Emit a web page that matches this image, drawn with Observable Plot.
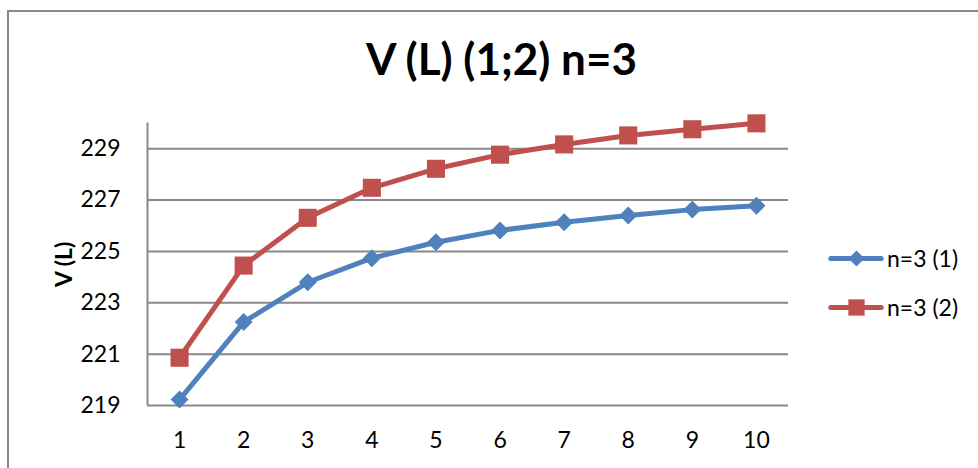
<!DOCTYPE html>
<html><head><meta charset="utf-8">
<script src="https://cdn.jsdelivr.net/npm/d3@7"></script>
<script src="https://cdn.jsdelivr.net/npm/@observablehq/plot@0.6"></script>
<style>
body{margin:0;width:978px;height:468px;overflow:hidden;background:#fff;font-family:Lato,sans-serif;}
#frame{position:absolute;left:7px;top:10px;width:980px;height:470px;border-left:2px solid #898989;border-top:2px solid #898989;}
#title{position:absolute;left:0;width:1003px;top:36px;text-align:center;font-weight:bold;font-size:44px;line-height:44px;color:#000;}
#chart{position:absolute;left:0;top:100px;}
#legend{position:absolute;left:828px;top:0;}
.row{position:absolute;left:0;display:flex;align-items:center;height:24px;font-size:23px;white-space:nowrap;color:#000;width:150px;}
.row svg{flex:none;max-width:none !important;width:56px;height:24px;}
.row span{margin-left:3px;}
g[aria-label="y-axis label"] text{font-weight:bold;}
</style></head>
<body>
<div id="frame"></div>
<div id="title"></div>
<div id="chart"></div>
<div id="legend"></div>
<script>
const titleText = "V (L) (1;2) n=3";
const yLabel = "V (L)";
const categories = [1,2,3,4,5,6,7,8,9,10];
const seriesNames = ["n=3 (1)", "n=3 (2)"];
const series1 = [219.23,222.25,223.8,224.74,225.36,225.82,226.14,226.4,226.63,226.78];
const series2 = [220.86,224.45,226.31,227.48,228.22,228.77,229.17,229.52,229.76,229.99];
const yTicks = [219,221,223,225,227,229];
const colors = ["#4F81BD", "#C0504D"];
const symbols = ["diamond2", "square"];
const radii = [8.1, 10.2];
const xDomain = [0.5, 10.5];
const yDomain = [219, 230];
const gridColor = "#898989";

document.getElementById("title").textContent = titleText;

const data = [];
seriesNames.forEach((name, s) => {
  const vals = s === 0 ? series1 : series2;
  categories.forEach((c, i) => data.push({series: name, x: c, y: vals[i], s}));
});

const chart = Plot.plot({
  width: 978,
  height: 368,
  marginLeft: 147,
  marginRight: 190,
  marginTop: 22.6,
  marginBottom: 63,
  style: {fontFamily: "Lato, sans-serif", fontSize: "23px", color: "#000", background: "transparent"},
  x: {domain: xDomain},
  y: {domain: yDomain},
  marks: [
    Plot.ruleY(yTicks, {stroke: gridColor, strokeWidth: 2, strokeOpacity: 1}),
    Plot.ruleX([xDomain[0]], {y1: yDomain[0], y2: yDomain[1], stroke: gridColor, strokeWidth: 2}),
    Plot.axisY({ticks: yTicks, tickSize: 0, tickPadding: 27, label: yLabel, labelAnchor: "center", labelOffset: 92, labelArrow: "none", fontSize: 23}),
    Plot.axisX({ticks: categories, tickSize: 0, tickPadding: 26, label: null, fontSize: 23, tickFormat: d => String(d)}),
    ...seriesNames.map((name, s) => Plot.line(data.filter(d => d.s === s), {x: "x", y: "y", stroke: colors[s], strokeWidth: 5, strokeLinejoin: "round", strokeLinecap: "round"})),
    ...seriesNames.map((name, s) => Plot.dot(data.filter(d => d.s === s), {x: "x", y: "y", symbol: symbols[s], r: radii[s], fill: colors[s], stroke: "none"}))
  ]
});
document.getElementById("chart").appendChild(chart);

const legend = document.getElementById("legend");
const rowTops = [246, 294.7];
seriesNames.forEach((name, s) => {
  const row = document.createElement("div");
  row.className = "row";
  row.style.top = rowTops[s] + "px";
  const sw = Plot.plot({
    width: 56, height: 24, margin: 0,
    x: {domain: [0, 1], axis: null},
    y: {domain: [0, 1], axis: null},
    style: {background: "transparent", overflow: "visible"},
    marks: [
      Plot.ruleY([0.5], {x1: 0.05, x2: 0.95, stroke: colors[s], strokeWidth: 5, strokeLinecap: "round"}),
      Plot.dot([0.5], {x: d => d, y: d => d, symbol: symbols[s], r: radii[s] * 0.9, fill: colors[s], stroke: "none"})
    ]
  });
  row.appendChild(sw);
  const span = document.createElement("span");
  span.textContent = name;
  row.appendChild(span);
  legend.appendChild(row);
});
</script>
</body></html>
